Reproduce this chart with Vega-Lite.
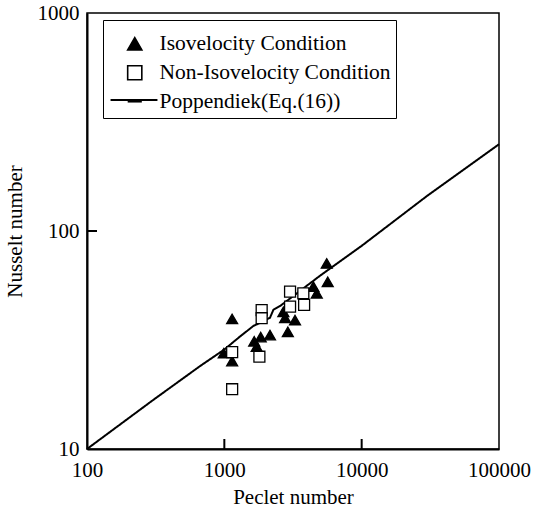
{
  "$schema": "https://vega.github.io/schema/vega-lite/v6.json",
  "width": 412,
  "height": 436,
  "autosize": {"type": "none"},
  "padding": {"left": 87, "top": 13, "right": 39, "bottom": 64},
  "background": "white",
  "config": {
    "view": {"stroke": "black", "strokeWidth": 1.5},
    "font": "Liberation Serif",
    "axis": {
      "grid": false,
      "ticks": false,
      "domainColor": "black",
      "domainWidth": 2,
      "labelColor": "black",
      "titleColor": "black",
      "labelFont": "Liberation Serif",
      "titleFont": "Liberation Serif",
      "labelFontSize": 21,
      "titleFontSize": 21,
      "titleFontWeight": "normal",
      "labelFlush": false,
      "labelOverlap": false
    }
  },
  "datasets": {
    "measured": [
      {"series": "Isovelocity Condition", "Pe": 990, "Nu": 27.5},
      {"series": "Isovelocity Condition", "Pe": 1140, "Nu": 25.3},
      {"series": "Isovelocity Condition", "Pe": 1140, "Nu": 39.5},
      {"series": "Isovelocity Condition", "Pe": 1650, "Nu": 31.2},
      {"series": "Isovelocity Condition", "Pe": 1720, "Nu": 29.5},
      {"series": "Isovelocity Condition", "Pe": 1840, "Nu": 32.6},
      {"series": "Isovelocity Condition", "Pe": 2150, "Nu": 33.3},
      {"series": "Isovelocity Condition", "Pe": 2690, "Nu": 42.6},
      {"series": "Isovelocity Condition", "Pe": 2770, "Nu": 40},
      {"series": "Isovelocity Condition", "Pe": 2900, "Nu": 34.5},
      {"series": "Isovelocity Condition", "Pe": 3270, "Nu": 39},
      {"series": "Isovelocity Condition", "Pe": 4450, "Nu": 55.6},
      {"series": "Isovelocity Condition", "Pe": 4710, "Nu": 51.8},
      {"series": "Isovelocity Condition", "Pe": 5570, "Nu": 71},
      {"series": "Isovelocity Condition", "Pe": 5660, "Nu": 58.5},
      {"series": "Non-Isovelocity Condition", "Pe": 1140, "Nu": 27.8},
      {"series": "Non-Isovelocity Condition", "Pe": 1140, "Nu": 18.8},
      {"series": "Non-Isovelocity Condition", "Pe": 1870, "Nu": 43.4},
      {"series": "Non-Isovelocity Condition", "Pe": 1870, "Nu": 39.8},
      {"series": "Non-Isovelocity Condition", "Pe": 1800, "Nu": 26.5},
      {"series": "Non-Isovelocity Condition", "Pe": 3010, "Nu": 52.7},
      {"series": "Non-Isovelocity Condition", "Pe": 3010, "Nu": 45},
      {"series": "Non-Isovelocity Condition", "Pe": 3760, "Nu": 51.8},
      {"series": "Non-Isovelocity Condition", "Pe": 3810, "Nu": 45.8}
    ],
    "poppendiek": [
      {"curve": "Poppendiek(Eq.(16))", "Pe": 100, "Nu": 10},
      {"curve": "Poppendiek(Eq.(16))", "Pe": 300, "Nu": 16.7},
      {"curve": "Poppendiek(Eq.(16))", "Pe": 665, "Nu": 24},
      {"curve": "Poppendiek(Eq.(16))", "Pe": 1000, "Nu": 28.6},
      {"curve": "Poppendiek(Eq.(16))", "Pe": 1300, "Nu": 32.8},
      {"curve": "Poppendiek(Eq.(16))", "Pe": 1630, "Nu": 36.7},
      {"curve": "Poppendiek(Eq.(16))", "Pe": 1900, "Nu": 38.4},
      {"curve": "Poppendiek(Eq.(16))", "Pe": 2150, "Nu": 40},
      {"curve": "Poppendiek(Eq.(16))", "Pe": 2280, "Nu": 43.6},
      {"curve": "Poppendiek(Eq.(16))", "Pe": 2550, "Nu": 45.3},
      {"curve": "Poppendiek(Eq.(16))", "Pe": 5000, "Nu": 62.5},
      {"curve": "Poppendiek(Eq.(16))", "Pe": 10000, "Nu": 85.5},
      {"curve": "Poppendiek(Eq.(16))", "Pe": 30000, "Nu": 145},
      {"curve": "Poppendiek(Eq.(16))", "Pe": 100000, "Nu": 250}
    ],
    "xTicks": [
      {"Pe": 1000, "Nu": 10},
      {"Pe": 10000, "Nu": 10}
    ],
    "yTicks": [
      {"Pe": 100, "Nu": 100}
    ]
  },
  "layer": [
    {
      "data": {"name": "poppendiek"},
      "mark": {"type": "line", "color": "black", "strokeWidth": 2},
      "encoding": {
        "x": {
          "field": "Pe",
          "type": "quantitative",
          "scale": {"type": "log", "domain": [100, 100000], "nice": false},
          "axis": {
            "title": "Peclet number",
            "values": [100, 1000, 10000, 100000],
            "format": "d",
            "labelPadding": 10,
            "titlePadding": 6
          }
        },
        "y": {
          "field": "Nu",
          "type": "quantitative",
          "scale": {"type": "log", "domain": [10, 1000], "nice": false},
          "axis": {
            "title": "Nusselt number",
            "values": [10, 100, 1000],
            "format": "d",
            "labelPadding": 8,
            "titlePadding": 12
          }
        },
        "strokeDash": {
          "field": "curve",
          "type": "nominal",
          "scale": {"domain": ["Poppendiek(Eq.(16))"], "range": [[1, 0]]},
          "legend": {
            "title": null,
            "orient": "none",
            "legendX": 22.5,
            "legendY": 62.5,
            "padding": 0,
            "symbolType": "stroke",
            "symbolSize": 2200,
            "symbolStrokeWidth": 2,
            "symbolStrokeColor": "black",
            "symbolOffset": 0,
            "labelExpr": "''",
            "labelFontSize": 1
          }
        }
      }
    },
    {
      "data": {"name": "xTicks"},
      "mark": {"type": "tick", "orient": "vertical", "size": 20, "thickness": 2, "color": "black", "opacity": 1, "clip": true},
      "encoding": {
        "x": {"field": "Pe", "type": "quantitative"},
        "y": {"field": "Nu", "type": "quantitative"}
      }
    },
    {
      "data": {"name": "yTicks"},
      "mark": {"type": "tick", "orient": "horizontal", "size": 20, "thickness": 2, "color": "black", "opacity": 1, "clip": true},
      "encoding": {
        "x": {"field": "Pe", "type": "quantitative"},
        "y": {"field": "Nu", "type": "quantitative"}
      }
    },
    {
      "data": {"name": "measured"},
      "mark": {"type": "point", "filled": true, "opacity": 1, "stroke": "black", "strokeWidth": 1.3, "size": 120},
      "encoding": {
        "x": {"field": "Pe", "type": "quantitative"},
        "y": {"field": "Nu", "type": "quantitative"},
        "shape": {
          "field": "series",
          "type": "nominal",
          "scale": {
            "domain": ["Isovelocity Condition", "Non-Isovelocity Condition", "Poppendiek(Eq.(16))"],
            "range": ["triangle-up", "square", "stroke"]
          },
          "legend": {
            "title": " ",
            "titleFontSize": 4,
            "titlePadding": 4,
            "orient": "none",
            "legendX": 16,
            "legendY": 7,
            "padding": 5,
            "strokeColor": "black",
            "symbolSize": 200,
            "symbolStrokeWidth": 1.6,
            "symbolOffset": 16,
            "labelOffset": 14,
            "rowPadding": 6,
            "labelFont": "Liberation Serif",
            "labelFontSize": 21.5,
            "labelColor": "black",
            "labelLimit": 400
          }
        },
        "fill": {
          "field": "series",
          "type": "nominal",
          "scale": {
            "domain": ["Isovelocity Condition", "Non-Isovelocity Condition", "Poppendiek(Eq.(16))"],
            "range": ["black", "white", "black"]
          },
          "legend": {
            "title": " ",
            "titleFontSize": 4,
            "titlePadding": 4,
            "orient": "none",
            "legendX": 16,
            "legendY": 7,
            "padding": 5,
            "strokeColor": "black",
            "symbolSize": 200,
            "symbolStrokeWidth": 1.6,
            "symbolOffset": 16,
            "labelOffset": 14,
            "rowPadding": 6,
            "labelFont": "Liberation Serif",
            "labelFontSize": 21.5,
            "labelColor": "black",
            "labelLimit": 400
          }
        }
      }
    }
  ]
}
